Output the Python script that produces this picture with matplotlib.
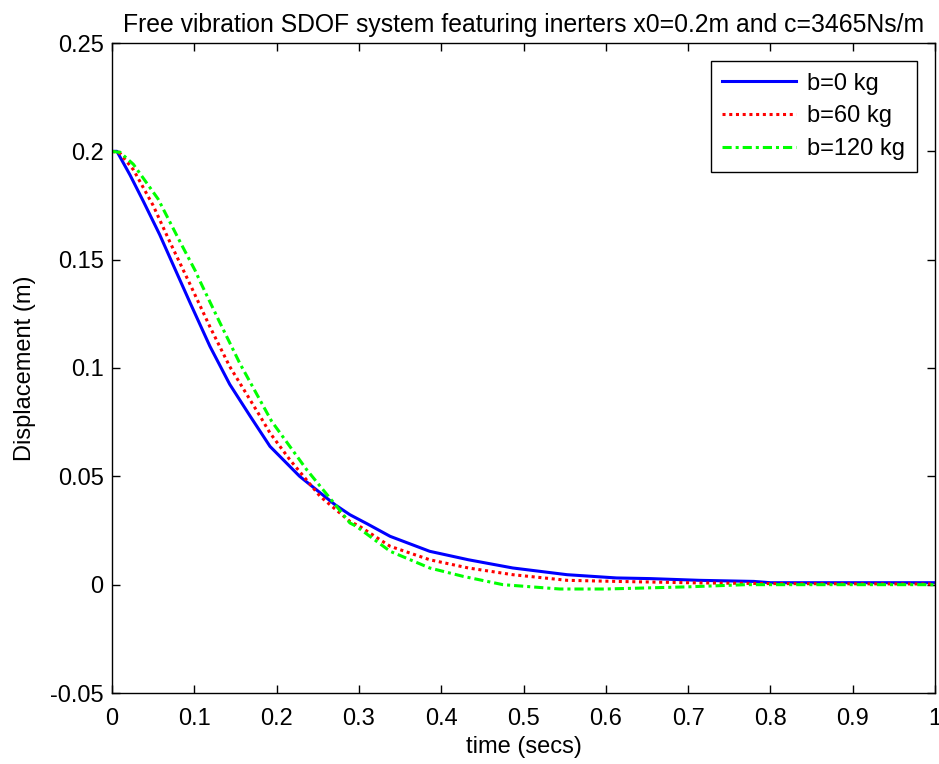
import matplotlib
matplotlib.use("Agg")
import matplotlib.pyplot as plt

plt.rcParams['font.family'] = ['Liberation Sans', 'DejaVu Sans']

title = "Free vibration SDOF system featuring inerters x0=0.2m and c=3465Ns/m"
series_labels = ["b=0 kg", "b=60 kg", "b=120 kg"]

t_b0 = [0, 0.006, 0.022, 0.038, 0.058, 0.075, 0.095, 0.119, 0.143, 0.168, 0.192,
        0.228, 0.271, 0.289, 0.31, 0.338, 0.386, 0.433, 0.487, 0.553, 0.613, 0.654,
        0.714, 0.78, 0.80, 1.0]
x_b0 = [0.200, 0.200, 0.189, 0.177, 0.1615, 0.147, 0.130, 0.110, 0.0925, 0.0777,
        0.0638, 0.050, 0.0369, 0.0323, 0.0281, 0.0223, 0.0154, 0.0115, 0.0077, 0.0046,
        0.0031, 0.0028, 0.0020, 0.0015, 0.0009, 0.0009]

t_b60 = [0, 0.01, 0.026, 0.05, 0.0705, 0.095, 0.119, 0.143, 0.180, 0.192, 0.216, 0.253,
         0.289, 0.301, 0.338, 0.386, 0.433, 0.487, 0.553, 0.613, 0.714, 0.80, 1.0]
x_b60 = [0.200, 0.199, 0.1915, 0.175, 0.158, 0.1385, 0.119, 0.1007, 0.0777, 0.070, 0.0577,
         0.0407, 0.0292, 0.0269, 0.0177, 0.0115, 0.0077, 0.0046, 0.0020, 0.0015, 0.0008,
         0.0005, 0.0003]

t_b120 = [0, 0.01, 0.026, 0.056, 0.083, 0.101, 0.107, 0.131, 0.1555, 0.194, 0.2365, 0.273,
          0.289, 0.297, 0.338, 0.386, 0.427, 0.475, 0.544, 0.60, 0.70, 0.77, 1.0]
x_b120 = [0.200, 0.1995, 0.194, 0.178, 0.158, 0.145, 0.140, 0.121, 0.102, 0.0754, 0.0531,
          0.0361, 0.0285, 0.0269, 0.0154, 0.0077, 0.0038, 0.0, -0.0020, -0.0020, -0.0010,
          0.0, 0.0]

xticks = [0, 0.1, 0.2, 0.3, 0.4, 0.5, 0.6, 0.7, 0.8, 0.9, 1.0]
xtick_labels = ["0", "0.1", "0.2", "0.3", "0.4", "0.5", "0.6", "0.7", "0.8", "0.9", "1"]
yticks = [-0.05, 0, 0.05, 0.1, 0.15, 0.2, 0.25]
ytick_labels = ["-0.05", "0", "0.05", "0.1", "0.15", "0.2", "0.25"]

fig = plt.figure(figsize=(9.39, 7.64), dpi=100)
ax = fig.add_axes([112/939, 1-693/764, (935-112)/939, (693-43)/764])

lw = 2.2
ax.plot(t_b0, x_b0, color=(0, 0, 1), lw=lw, linestyle='-', label=series_labels[0])
ax.plot(t_b60, x_b60, color=(1, 0, 0), lw=lw, linestyle=(0, (1, 1.2)), label=series_labels[1])
ax.plot(t_b120, x_b120, color=(0, 1, 0), lw=lw, linestyle=(0, (3, 1.3, 1, 1.3)), label=series_labels[2])

ax.set_xlim(0, 1)
ax.set_ylim(-0.05, 0.25)
ax.set_xticks(xticks)
ax.set_xticklabels(xtick_labels)
ax.set_yticks(yticks)
ax.set_yticklabels(ytick_labels)
ax.tick_params(direction='in', top=True, right=True, length=6, width=1, labelsize=17)
ax.tick_params(axis='x', pad=11)
ax.tick_params(axis='y', pad=6)
for s in ax.spines.values():
    s.set_linewidth(1.0)

ax.set_title(title, fontsize=17.8, pad=8)
ax.set_xlabel("time (secs)", fontsize=17, labelpad=4)
ax.set_ylabel("Displacement (m)", fontsize=17, labelpad=10)

leg = ax.legend(loc='upper right', fontsize=17, fancybox=False, framealpha=1,
                edgecolor='black', handlelength=3.1, handletextpad=0.5,
                borderaxespad=0.75, labelspacing=0.45, borderpad=0.5)
leg.get_frame().set_linewidth(1.0)

fig.savefig("out.png", dpi=100)
